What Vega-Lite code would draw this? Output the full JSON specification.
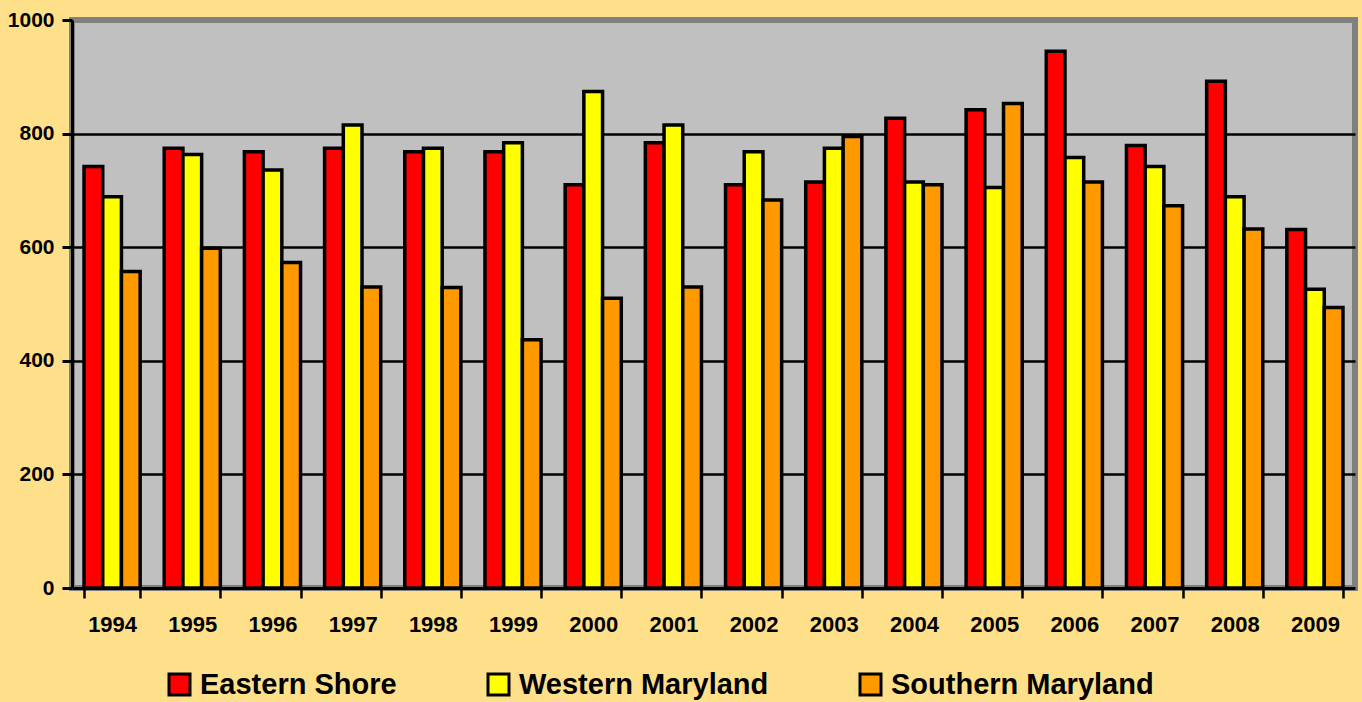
{
  "$schema": "https://vega.github.io/schema/vega-lite/v6.json",
  "width": 1283,
  "height": 568,
  "autosize": {"type": "none"},
  "padding": {"left": 72, "top": 20, "right": 7, "bottom": 114},
  "background": "#ffe08a",
  "data": {
    "values": [
      {"year": "1994", "region": "Eastern Shore", "value": 742},
      {"year": "1994", "region": "Western Maryland", "value": 689},
      {"year": "1994", "region": "Southern Maryland", "value": 557},
      {"year": "1995", "region": "Eastern Shore", "value": 774},
      {"year": "1995", "region": "Western Maryland", "value": 763},
      {"year": "1995", "region": "Southern Maryland", "value": 598},
      {"year": "1996", "region": "Eastern Shore", "value": 768},
      {"year": "1996", "region": "Western Maryland", "value": 736},
      {"year": "1996", "region": "Southern Maryland", "value": 573},
      {"year": "1997", "region": "Eastern Shore", "value": 774},
      {"year": "1997", "region": "Western Maryland", "value": 815},
      {"year": "1997", "region": "Southern Maryland", "value": 530},
      {"year": "1998", "region": "Eastern Shore", "value": 768},
      {"year": "1998", "region": "Western Maryland", "value": 774},
      {"year": "1998", "region": "Southern Maryland", "value": 529},
      {"year": "1999", "region": "Eastern Shore", "value": 768},
      {"year": "1999", "region": "Western Maryland", "value": 784},
      {"year": "1999", "region": "Southern Maryland", "value": 437},
      {"year": "2000", "region": "Eastern Shore", "value": 710},
      {"year": "2000", "region": "Western Maryland", "value": 874},
      {"year": "2000", "region": "Southern Maryland", "value": 510},
      {"year": "2001", "region": "Eastern Shore", "value": 784},
      {"year": "2001", "region": "Western Maryland", "value": 815},
      {"year": "2001", "region": "Southern Maryland", "value": 530},
      {"year": "2002", "region": "Eastern Shore", "value": 710},
      {"year": "2002", "region": "Western Maryland", "value": 768},
      {"year": "2002", "region": "Southern Maryland", "value": 683},
      {"year": "2003", "region": "Eastern Shore", "value": 715},
      {"year": "2003", "region": "Western Maryland", "value": 774},
      {"year": "2003", "region": "Southern Maryland", "value": 795},
      {"year": "2004", "region": "Eastern Shore", "value": 827},
      {"year": "2004", "region": "Western Maryland", "value": 715},
      {"year": "2004", "region": "Southern Maryland", "value": 710},
      {"year": "2005", "region": "Eastern Shore", "value": 842},
      {"year": "2005", "region": "Western Maryland", "value": 705},
      {"year": "2005", "region": "Southern Maryland", "value": 853},
      {"year": "2006", "region": "Eastern Shore", "value": 945},
      {"year": "2006", "region": "Western Maryland", "value": 758},
      {"year": "2006", "region": "Southern Maryland", "value": 715},
      {"year": "2007", "region": "Eastern Shore", "value": 779},
      {"year": "2007", "region": "Western Maryland", "value": 742},
      {"year": "2007", "region": "Southern Maryland", "value": 673},
      {"year": "2008", "region": "Eastern Shore", "value": 892},
      {"year": "2008", "region": "Western Maryland", "value": 689},
      {"year": "2008", "region": "Southern Maryland", "value": 632},
      {"year": "2009", "region": "Eastern Shore", "value": 631},
      {"year": "2009", "region": "Western Maryland", "value": 526},
      {"year": "2009", "region": "Southern Maryland", "value": 494}
    ]
  },
  "mark": {"type": "bar", "stroke": "black", "strokeWidth": 3.5},
  "encoding": {
    "x": {
      "field": "year",
      "type": "nominal",
      "scale": {"paddingInner": 0.3, "paddingOuter": 0.15},
      "axis": {
        "title": null,
        "labelAngle": 0,
        "labelFont": "Liberation Sans",
        "labelFontSize": 22,
        "labelFontWeight": "bold",
        "labelColor": "black",
        "labelPadding": 16,
        "domainColor": "black",
        "domainWidth": 3,
        "tickColor": "black",
        "tickWidth": 2.5,
        "tickSize": 10,
        "tickBand": "extent"
      }
    },
    "xOffset": {
      "field": "region",
      "type": "nominal",
      "sort": ["Eastern Shore", "Western Maryland", "Southern Maryland"]
    },
    "y": {
      "field": "value",
      "type": "quantitative",
      "scale": {"domain": [0, 1000], "nice": false},
      "axis": {
        "title": null,
        "values": [0, 200, 400, 600, 800, 1000],
        "format": "d",
        "labelFont": "Liberation Sans",
        "labelFontSize": 21,
        "labelFontWeight": "bold",
        "labelColor": "black",
        "labelPadding": 8,
        "domainColor": "black",
        "domainWidth": 3,
        "tickColor": "black",
        "tickWidth": 3,
        "tickSize": 10,
        "grid": true,
        "gridColor": {"condition": {"test": "datum.value >= 1000 || datum.value <= 0", "value": "transparent"}, "value": "black"},
        "gridWidth": 2.5,
        "gridOpacity": 1
      }
    },
    "color": {
      "field": "region",
      "type": "nominal",
      "sort": ["Eastern Shore", "Western Maryland", "Southern Maryland"],
      "scale": {
        "domain": ["Eastern Shore", "Western Maryland", "Southern Maryland"],
        "range": ["#ff0000", "#ffff00", "#ff9900"]
      },
      "legend": {
        "orient": "none",
        "legendX": 93,
        "legendY": 650,
        "direction": "horizontal",
        "title": null,
        "padding": 0,
        "symbolType": "square",
        "symbolSize": 441,
        "symbolStrokeColor": "black",
        "symbolStrokeWidth": 3,
        "symbolOpacity": 1,
        "labelFont": "Liberation Sans",
        "labelFontSize": 29,
        "labelFontWeight": "bold",
        "labelColor": "black",
        "labelOffset": 6,
        "labelLimit": 0,
        "columnPadding": 85
      }
    }
  },
  "config": {
    "view": {"fill": "#c0c0c0", "stroke": "#808080", "strokeWidth": 6}
  }
}
